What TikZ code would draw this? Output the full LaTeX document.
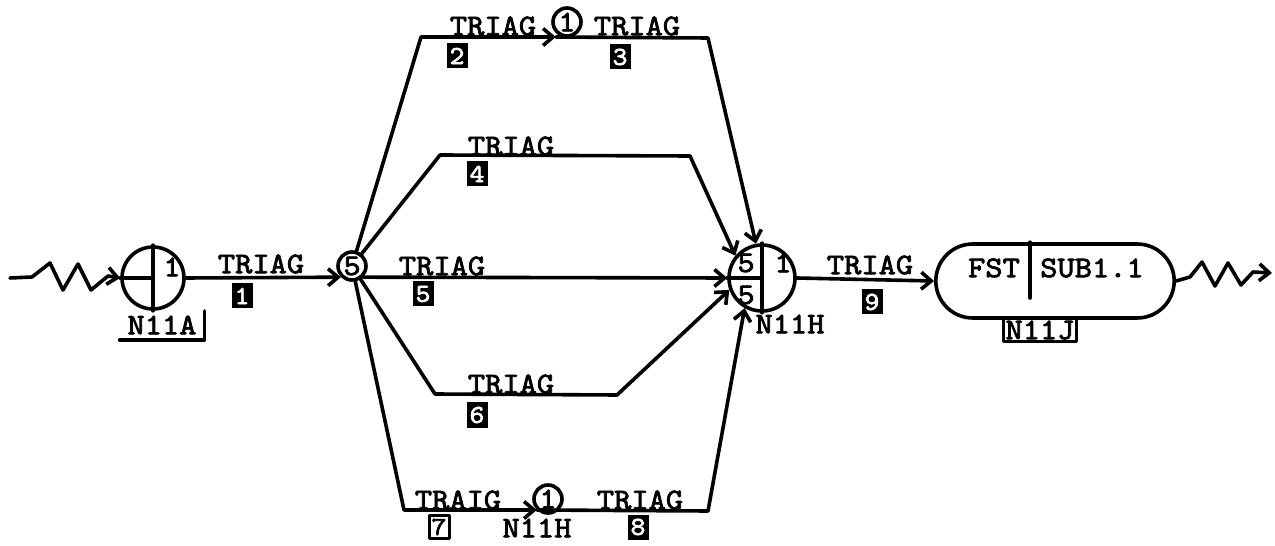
\documentclass[tikz,border=0pt]{standalone}
\usepackage{fontspec}
\newfontfamily\tw{lmmono10-regular.otf}[FakeStretch=1.1,FakeBold=2.5]
\usetikzlibrary{arrows.meta,shapes.misc,calc}
\begin{document}
\begin{tikzpicture}[x=1bp,y=-1bp,
  line width=3.6bp, line join=round, line cap=round,
  font=\tw\fontsize{30}{31}\selectfont,
  >={Straight Barb[length=10bp,width=17bp]},
  lbl/.style={inner sep=0pt},
  numbox/.style={fill=black, text=white, inner sep=0pt, minimum width=21bp,
    minimum height=25bp, font=\tw\fontsize{26}{26}\selectfont},
  openbox/.style={draw, line width=3bp, inner sep=1.5bp, minimum width=20bp,
    minimum height=23bp, font=\tw\fontsize{26}{26}\selectfont},
  junc/.style={circle, draw, inner sep=0pt, minimum size=28bp},
  fork/.style={circle, draw, inner sep=0pt},
  stad/.style={rounded rectangle, draw, minimum width=245bp, minimum height=74bp}
]
\useasboundingbox (0,0) rectangle (1275,546);

% ---- entry queue node N11A
\node[fork, minimum size=62bp] (A) at (153,278) {};
\draw (A.north) -- (A.south);
\draw (A.west) -- (A.center);
\node[lbl] (A1) at (172,267) {1};
\node[lbl] (Alab) at (162,325) {N11A};
\draw ($(Alab.south west)+(-6,4)$) -- ($(Alab.south east)+(6,4)$) -- ($(Alab.north east)+(6,-3)$);

% incoming wavy source arrow
\coordinate (src) at (10,278);
\draw[->] (src) -- (32,277) -- (50,263) -- (63,290) -- (78,264) -- (91,290) -- (108,276) -- (A.west);

% ---- branching node
\node[junc] (B) at (352,266) {5};
\draw[->] (A.east) -- (B.south west);
\node[lbl] (l1) at (261,264) {TRIAG};
\node[numbox] (n1) at (242,296) {1};

% ---- join node N11H
\node[fork, minimum size=66bp] (H) at (762,278) {};
\draw (H.north) -- (H.south);
\draw (H.west) -- (H.center);
\node[lbl] (H5a) at (746,263) {5};
\node[lbl] (H5b) at (746,295) {5};
\node[lbl] (H1) at (783,263) {1};
\node[lbl] (Hlab) at (790,324) {N11H};

% ---- upper branch with intermediate node
\node[junc] (q1) at (567,22) {1};
\coordinate (t1) at (421,37);
\coordinate (t2) at (708,38);
\coordinate (q1in) at (t1 -| q1.south west);
\draw[->] (B) -- (t1) -- (q1in);
\draw[->] (q1in) -- (t2) -- (H.100);
\node[lbl] (l2) at (493,26) {TRIAG};
\node[numbox] (n2) at (457,56) {2};
\node[lbl] (l3) at (637,26) {TRIAG};
\node[numbox] (n3) at (620,57) {3};

% ---- branch 4
\coordinate (u1) at (440,155);
\coordinate (u2) at (690,156);
\draw[->] (B) -- (u1) -- (u2) -- (H.140);
\node[lbl] (l4) at (511,146) {TRIAG};
\node[numbox] (n4) at (477,174) {4};

% ---- branch 5 (direct)
\draw[->] (B.south east) -- (H.west);
\node[lbl] (l5) at (442,266) {TRIAG};
\node[numbox] (n5) at (423,294) {5};

% ---- branch 6
\coordinate (v1) at (435,394);
\coordinate (v2) at (617,395);
\draw[->] (B) -- (v1) -- (v2) -- (H.200);
\node[lbl] (l6) at (511,384) {TRIAG};
\node[numbox] (n6) at (477,415) {6};

% ---- lower branch with intermediate node
\node[junc] (q2) at (548,499) {1};
\coordinate (w1) at (404,510);
\coordinate (w2) at (708,511);
\coordinate (q2in) at (w1 -| q2.south west);
\draw[->] (B) -- (w1) -- (q2in);
\draw[->] (q2in) -- (w2) -- (H.240);
\node[lbl] (l7) at (458,500) {TRAIG};
\node[openbox] (n7) at (439,527) {7};
\node[lbl] (q2lab) at (537,528) {N11H};
\node[lbl] (l8) at (640,500) {TRIAG};
\node[numbox] (n8) at (638,527) {8};

% ---- subnetwork node N11J
\node[stad] (J) at (1055,281) {};
\coordinate (dv) at (1030,298);
\draw (dv |- J.north) -- (dv);
\node[lbl] (Jf) at (994,268) {FST};
\node[lbl] (Js) at (1092,268) {SUB1.1};
\node[draw, line width=3bp, inner sep=2bp] (Jlab) at (1040,330) {N11J};
\draw[->] (H.east) -- (J.west);
\node[lbl] (l9) at (870,265) {TRIAG};
\node[numbox] (n9) at (872,302) {9};

% outgoing wavy sink arrow
\coordinate (snk) at (1272,273);
\draw[->] (J.east) -- (1190,277) -- (1202,262) -- (1215,286) -- (1228,263) -- (1241,285) -- (1253,272) -- (snk);
\end{tikzpicture}
\end{document}
